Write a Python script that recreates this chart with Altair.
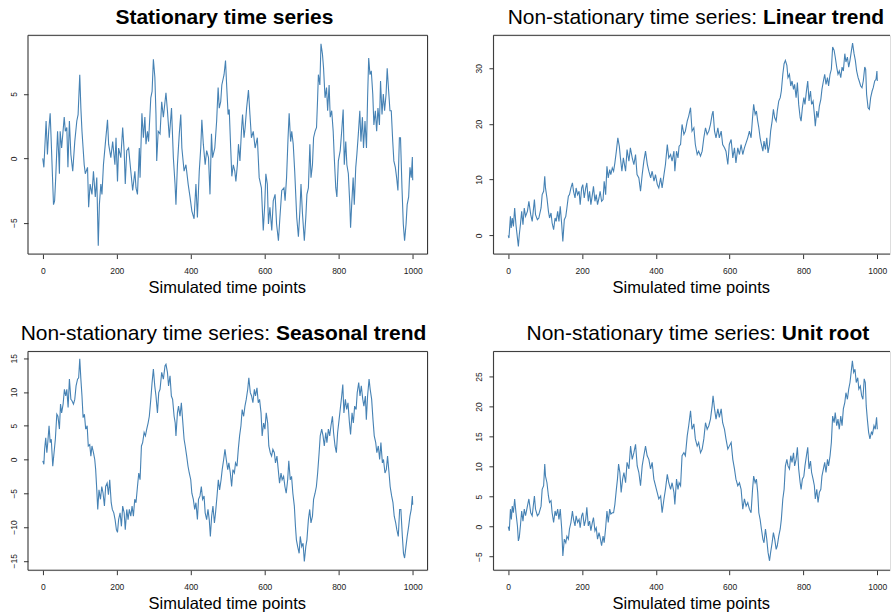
import altair as alt
import pandas as pd

# ---- series values (time index, value) ----
stationary_t = [0, 3, 9, 12.6, 16, 20, 22.5, 29, 32, 35, 40, 43, 45, 47, 51, 58, 61, 65, 68, 72, 76, 81, 86.5, 92, 95.5,
                100, 103, 106, 112, 115, 121, 124, 128, 133, 137, 142, 146, 150, 153, 157, 160, 164, 169, 175, 178, 184,
                189, 195, 198, 202, 205, 211, 216, 220, 223, 227, 232, 238, 243, 249, 252, 256, 261, 263, 268, 272, 276,
                279, 283, 286, 292, 295.5, 299, 303, 306, 308, 312, 317, 321.5, 326, 333, 337, 342, 348, 353, 357.5, 360,
                364, 369, 373, 376, 382, 387, 393, 398, 403, 409, 414, 418, 423, 427, 430, 434, 439, 443, 448, 452, 456,
                459, 465, 470, 474, 477, 481, 484, 490, 494, 497, 501, 504, 508, 511, 515, 519, 522, 526, 529, 533, 537,
                540, 544, 547, 551, 556, 560, 564, 569, 574, 580, 585, 591, 596, 600, 603, 607, 610, 614, 619, 623, 628,
                632, 637, 641, 646, 652, 655, 659, 663, 666, 670, 673, 677, 681, 686.5, 691, 695, 698, 702, 707, 711, 714,
                718, 722, 725, 729, 732, 736, 740, 743, 745, 749, 752, 756, 759, 763, 767, 770, 774, 777, 781, 785, 788,
                792, 795, 799, 804, 808, 812, 815, 819, 822, 826, 830, 832, 835, 839, 842, 846, 849, 853, 857, 860, 864,
                867, 871, 875, 878, 881, 884.5, 888, 892, 895, 899, 902.5, 906, 910, 913, 917, 920.5, 924, 928, 931, 935,
                938.5, 942, 946, 949, 953, 956.5, 960, 964, 967, 971, 974.5, 978, 982, 985, 989, 992.5, 996, 999, 1000]
stationary_v = [0.0, -0.7, 2.9, 0.3, 2.1, 3.5, 1.6, -3.6, -3.3, -1.5, 2.1, 0.3, -1.2, 2.1, 0.8, 3.2, 2.1, 2.4, -0.7, 2.9,
                0.3, -1.0, 1.3, 2.9, 3.4, 6.5, 3.9, 2.1, -0.5, -1.2, -0.7, -3.8, -2.0, -2.8, -1.0, -3.0, -1.5, -6.8, -3.6,
                -2.0, -2.8, -0.5, 1.1, 3.0, 1.1, 0.05, 1.3, -0.5, 1.6, -1.8, 0.8, 0.05, 2.4, 0.6, -2.0, 0.6, 0.8, -1.0,
                -2.5, -1.0, -2.3, -2.8, 0.8, -1.5, 3.5, 1.6, 3.2, 1.1, 2.1, 1.3, 4.7, 5.2, 7.7, 6.3, 3.4, -0.2, 2.1, 1.9,
                4.4, 3.2, 5.1, 3.7, 1.6, 3.9, 0.05, -2.0, -3.6, -0.5, 1.9, 3.4, 0.8, -1.0, -0.5, -2.0, -3.0, -4.1, -4.7,
                -2.0, -4.6, -1.0, 0.8, 3.0, 1.1, -0.5, 0.6, 0.05, -2.8, 1.9, 0.05, 0.8, 2.9, 5.5, 3.9, 4.4, 5.7, 6.5, 7.6,
                5.7, 3.4, 3.8, 0.8, -1.4, -0.5, -1.0, -1.8, -0.5, 1.1, -0.2, 2.1, 3.4, 1.6, 2.4, 3.9, 5.3, 3.4, 1.6, 2.1,
                0.8, 1.6, -1.5, -2.3, -5.6, -3.6, -1.2, -2.0, -5.1, -3.8, -5.6, -3.3, -2.8, -5.1, -6.4, -4.6, -2.5, -2.3,
                -3.3, -1.5, 1.6, 3.5, 1.3, 2.1, 1.1, -1.0, -4.6, -6.1, -4.1, -2.0, -4.3, -6.4, -4.6, -2.8, -2.3, 1.1,
                -1.5, -0.5, 1.6, 2.1, 2.4, 4.7, 6.5, 5.7, 8.9, 8.1, 7.0, 4.7, 5.5, 3.7, 5.7, 3.2, 3.7, 2.1, 0.05, -2.3,
                -3.0, -0.2, 0.6, 2.1, 3.8, -0.5, 1.3, -0.5, -1.2, -3.6, -5.4, -3.6, -1.5, -3.6, -0.7, 0.3, 1.9, 3.7, 1.3,
                3.2, 0.8, 2.9, 0.8, 4.7, 7.8, 6.5, 6.8, 5.0, 2.6, 3.7, 2.1, 3.9, 2.6, 6.0, 3.4, 5.0, 3.7, 5.0, 7.0, 5.2,
                3.7, 3.7, 1.3, -0.2, -0.7, -1.5, -2.5, 1.6, 1.6, -2.3, -5.1, -6.4, -5.1, -3.6, -3.0, -0.7, -1.5, 0.1, -1.7]

linear_t = [0, 2, 6, 8, 11, 14, 17.5, 21, 25, 27.5, 30, 33, 36.5, 40, 43.5, 47, 52, 56, 61, 65, 71, 74, 79, 83, 89, 92,
            96, 99, 101, 105, 109, 112, 116, 119, 123, 127, 130, 134, 137.5, 141, 145, 148, 152, 156, 159, 163, 166, 170,
            174, 177, 181, 184, 188, 192, 195, 199, 202, 206, 210, 213, 217, 220.5, 224, 228, 231, 235, 238.5, 242, 246,
            249, 253, 257, 260, 264, 267.5, 271, 275, 278, 282, 285.5, 289, 293, 297, 301, 304, 308, 312, 318, 322, 327,
            331, 336, 340.5, 345, 349, 354, 358.5, 363, 367.5, 372, 377, 381, 386, 390, 395, 399, 404, 408, 413, 417,
            422, 426, 431, 435, 440, 444, 449, 451.5, 456, 460, 463, 467, 471, 476, 480, 485, 489, 494, 498, 503, 507,
            512, 516, 521, 525.5, 530, 534.5, 539, 543.5, 548, 552.5, 555, 559, 563, 568, 572, 577, 581, 586, 590, 595,
            599, 604, 608.5, 613, 617, 622, 626.5, 631, 635.5, 640, 644.5, 649, 653.5, 658, 662, 665, 669, 672.5, 676,
            679, 682.5, 686, 690, 693, 697, 700.5, 704, 708, 711, 715, 718.5, 722, 726, 729, 733, 737, 740, 744, 747.5,
            751, 755, 758, 762, 765.5, 769, 773, 776, 780, 783.5, 787, 791, 793.5, 797, 801, 804, 808, 811.5, 815, 819,
            822, 826, 829.5, 832, 836, 839.5, 843, 847, 850, 854, 857.5, 861, 865, 868, 872, 875.5, 879, 883, 886, 890,
            893.5, 897, 901, 904.5, 908, 912, 915, 919, 922.5, 926, 930, 933, 937, 940.5, 944, 948, 951, 955, 958.5,
            962, 966, 968.5, 971, 975, 978.5, 982, 986, 989, 993, 996.5, 999, 1000]
linear_v = [0, -0.5, 3.4, 1.3, 3.1, 1.6, 4.9, 1.9, -0.5, -2.0, 0.1, 1.9, 4.3, 1.9, 4.9, 3.4, 4.3, 6.1, 3.7, 2.5, 6.4,
            3.7, 2.8, 3.1, 4.9, 7.3, 7.9, 10.6, 8.5, 6.7, 4.3, 3.1, 4.0, 2.2, 1.0, 3.1, 2.5, 4.3, 2.5, 5.2, 1.9, -1.1,
            2.8, 3.4, 4.9, 7.0, 7.3, 8.5, 9.4, 7.9, 6.7, 8.5, 7.3, 7.9, 5.5, 8.5, 9.1, 6.7, 8.5, 9.4, 6.1, 7.9, 5.5,
            7.3, 8.8, 6.1, 7.3, 5.5, 6.7, 7.9, 6.1, 6.4, 9.7, 7.3, 12.4, 10.3, 11.8, 10.9, 12.1, 11.5, 13.0, 15.1, 17.5,
            16.0, 13.9, 11.5, 13.9, 11.5, 15.4, 13.3, 15.7, 13.9, 12.7, 14.5, 10.9, 10.3, 7.9, 10.9, 13.3, 15.1, 12.7,
            11.5, 10.3, 11.5, 9.7, 10.9, 9.1, 8.5, 10.3, 8.5, 10.9, 12.7, 16.3, 13.9, 14.5, 13.3, 15.1, 11.5, 15.1,
            13.9, 16.0, 16.3, 19.9, 18.1, 18.7, 20.5, 21.4, 22.9, 18.7, 19.3, 16.3, 14.5, 15.1, 14.2, 15.1, 17.5, 19.3,
            18.1, 18.7, 19.9, 21.7, 22.3, 18.7, 17.5, 19.3, 17.5, 18.7, 16.3, 15.7, 15.1, 12.7, 16.3, 17.2, 13.9, 15.7,
            13.0, 15.7, 14.5, 16.3, 14.5, 15.7, 16.6, 17.5, 18.7, 17.5, 21.1, 23.5, 21.7, 22.3, 20.5, 19.3, 17.5, 16.3,
            15.1, 16.9, 15.4, 17.5, 14.8, 16.3, 18.7, 20.5, 22.6, 21.1, 20.5, 22.3, 24.1, 24.7, 25.9, 28.9, 30.8, 31.4,
            30.5, 28.3, 28.9, 26.8, 27.7, 26.2, 27.1, 24.7, 27.4, 23.5, 21.1, 20.5, 22.9, 24.7, 23.5, 25.9, 27.7, 24.1,
            25.9, 23.5, 24.1, 21.7, 19.6, 22.3, 21.1, 23.2, 24.4, 26.2, 27.7, 28.9, 27.1, 28.3, 26.8, 28.9, 29.8, 33.8,
            33.2, 32.0, 30.2, 28.9, 29.5, 28.3, 30.2, 29.5, 32.6, 31.1, 32.0, 30.2, 31.4, 33.2, 34.5, 32.6, 31.4, 29.5,
            28.3, 27.7, 26.8, 26.5, 27.7, 30.2, 29.8, 25.3, 22.9, 22.6, 24.7, 25.9, 26.5, 27.7, 28.0, 29.5, 27.7]

seasonal_t = [0, 3, 5, 8, 11, 13.5, 17, 20, 23, 27, 30.5, 34, 38, 41, 45, 48, 51, 55, 58.5, 62, 65, 68.5, 72, 76, 79, 83,
              86.5, 90, 94, 97, 100, 103, 106, 109, 112.6, 116, 120, 123, 127, 130, 133, 137, 140.5, 143, 146, 148.6,
              152, 156, 159.5, 163, 166.7, 170, 174, 177.5, 181, 185, 188, 192, 195.5, 199, 202, 205, 209, 212.6, 216,
              220, 223, 227, 230.6, 234, 238, 241.4, 245, 248.6, 252, 256, 259.5, 263, 266.7, 270, 274, 277.5, 281,
              284.7, 288, 292, 295.5, 299, 302.7, 306, 310, 313.5, 317, 321.5, 326, 330.5, 333, 337, 340, 344, 347.6,
              351, 355, 358, 360, 364, 367, 371, 374.6, 378, 382, 385, 389, 392.6, 396, 400, 403, 407, 410.6, 414, 418,
              421, 425, 428.6, 432, 436, 439, 443, 446.6, 450, 453, 456.5, 460, 464, 467, 471, 474.5, 478, 482, 485,
              489, 492.5, 496, 500, 503, 507, 510.5, 514, 518, 521, 525, 528.5, 532, 535.7, 539, 543, 546.5, 550, 554,
              557, 561, 564.5, 568, 572, 575, 579, 582.5, 586, 590, 593, 597, 600.5, 604, 608, 611, 615, 618.5, 622,
              626, 629, 633, 636.5, 640, 644, 647, 651, 654.5, 658, 662, 665, 669, 672.5, 676, 680, 683, 685.6, 689,
              693, 696, 700, 703.6, 707, 711, 714, 718, 721.6, 725, 729, 732, 736, 739.6, 743, 747, 750, 754, 757.6,
              761, 765, 768, 772, 775.6, 779, 783, 786, 790, 793.6, 797, 801, 804, 808, 811, 814, 818, 821.5, 825, 829,
              832, 836, 839.5, 843, 847, 850, 854, 857.5, 861, 865, 868, 872, 874.6, 878, 882, 885, 889, 892.6, 896,
              900, 903, 907, 910.6, 914, 918, 921, 925, 928.6, 932, 936, 939, 943, 946.6, 950, 954, 957, 961, 964.6,
              968, 972, 975, 978, 981.7, 985, 989, 992.5, 996, 999, 1000]
seasonal_v = [-0.2, -0.7, 1.5, 3.2, 1.0, 2.5, 5.0, 2.5, 3.0, -1.0, 1.0, 3.0, 6.7, 6.4, 4.5, 8.2, 6.9, 8.2, 10.4, 9.4,
              10.4, 7.7, 11.9, 8.9, 8.7, 8.2, 8.9, 10.9, 11.9, 12.1, 14.9, 11.9, 9.4, 6.2, 6.7, 4.5, 5.0, 2.0, 2.2, 0.5,
              2.0, 1.0, 0.0, -1.5, -4.5, -7.4, -4.5, -5.9, -4.0, -5.0, -6.9, -4.0, -3.5, -5.2, -3.0, -6.4, -7.4, -7.9,
              -8.9, -10.4, -10.8, -8.9, -7.9, -9.9, -6.9, -7.9, -10.4, -7.4, -8.9, -7.4, -8.4, -6.9, -8.4, -5.9, -6.4,
              -4.0, -2.0, -3.0, 2.0, 2.5, 4.0, 3.5, 4.5, 5.4, 6.4, 8.9, 11.4, 13.4, 10.9, 9.4, 6.9, 9.9, 10.4, 12.9,
              11.9, 13.9, 14.1, 12.9, 10.9, 12.4, 9.4, 8.9, 6.4, 5.4, 3.5, 6.9, 7.9, 6.4, 8.4, 5.9, 3.0, 2.0, 0.5, -1.0,
              -2.0, -3.0, -5.0, -5.9, -7.4, -6.4, -8.9, -5.9, -5.4, -4.0, -5.9, -5.4, -7.9, -8.9, -7.4, -8.9, -11.4,
              -8.4, -6.9, -9.4, -7.9, -5.4, -3.0, -4.5, -3.0, -1.5, 0.0, 1.5, 0.0, -1.5, -0.5, -2.0, -4.0, -1.5, -2.0,
              -0.5, -1.0, 1.5, 3.5, 5.0, 7.4, 6.4, 7.9, 8.9, 10.4, 12.1, 9.9, 9.4, 8.4, 10.4, 9.4, 10.6, 8.4, 8.9, 6.9,
              3.5, 5.4, 4.5, 6.9, 5.4, 2.0, 1.0, 0.5, 1.5, 1.0, -0.5, 0.5, -1.5, -3.5, -2.0, -3.0, -2.5, -4.0, -5.0,
              -3.0, -0.2, -3.0, -2.5, -5.0, -6.9, -9.9, -11.9, -12.9, -13.9, -11.4, -12.9, -12.4, -15.1, -12.9, -11.9,
              -8.9, -7.4, -9.4, -8.4, -5.9, -5.0, -4.0, -2.0, 1.0, 3.5, 4.5, 3.5, 2.0, 4.0, 2.5, 4.5, 3.5, 5.0, 6.4,
              4.0, 2.0, 1.0, 4.0, 5.9, 7.4, 9.4, 11.1, 6.9, 8.9, 7.4, 8.4, 5.4, 3.7, 6.9, 5.4, 7.9, 7.4, 9.9, 11.4, 9.4,
              10.9, 8.9, 7.9, 9.4, 5.9, 9.4, 11.9, 10.4, 8.9, 5.9, 3.5, 2.5, 1.0, 2.0, 0.0, 2.5, -0.5, 0.0, -2.0, -1.5,
              0.5, -2.0, -4.0, -5.4, -6.4, -8.4, -9.4, -10.4, -11.4, -7.4, -7.4, -11.4, -13.9, -14.6, -12.9, -11.4,
              -9.9, -8.4, -7.4, -5.4, -6.7]

unitroot_t = [0, 3, 6, 8.5, 11, 14, 17.5, 21, 25, 27.5, 30, 33, 36.5, 40, 43.5, 47, 52, 56, 61, 65, 71, 74, 79, 83, 89,
              92, 96, 99, 101, 105, 109, 112, 116, 119, 123, 127, 130, 134, 137.5, 141, 145, 148, 152, 156, 159, 163,
              166, 170, 174, 177, 181, 184, 188, 192, 195, 199, 202, 206, 210, 213, 217, 220.5, 224, 228, 231, 235,
              238.5, 242, 246, 249, 253, 257, 260, 264, 267.5, 271, 275, 278, 282, 285.5, 289, 293, 296, 299, 302.5,
              306, 310, 313.5, 318, 322, 327, 331.5, 336, 340.5, 345, 349.5, 354, 358.5, 363, 367.5, 372, 376.5, 381,
              385.6, 390, 394.6, 399, 403.6, 408, 413, 417, 422, 426, 431, 435, 440, 444, 449, 451.5, 456, 460, 463,
              467, 471, 476, 480, 485, 489, 494, 498, 503, 507, 512, 516, 521, 525.5, 530, 534.5, 539, 543.5, 548,
              552.5, 555, 559, 563, 568, 572, 577, 581, 586, 590, 595, 599, 604, 608.5, 613, 617, 622, 626.5, 631,
              635.5, 640, 644.5, 649, 653.5, 658, 662, 665, 669, 672.5, 676, 679, 682.5, 686, 690, 693, 697, 700.5,
              704, 708, 711, 715, 718.5, 722, 726, 729, 733, 737, 740, 744, 747.5, 751, 755, 758, 762, 765.5, 769, 773,
              776, 780, 783.5, 787, 791, 793.5, 797, 801, 804, 808, 811.5, 815, 819, 822, 826, 829.5, 832, 836, 839.5,
              843, 847, 850, 854, 857.5, 861, 865, 868, 872, 875.5, 879, 883, 886, 890, 893.5, 897, 901, 904.5, 908,
              912, 915, 919, 922.5, 926, 930, 932.5, 936, 939.5, 943, 947, 950, 954, 957.5, 961, 964.5, 967.5, 970, 973,
              976.5, 980, 984, 987, 991, 994.5, 998, 1000]
unitroot_v = [0, -0.7, 2.9, 1.2, 3.4, 2.3, 4.6, 2.3, 0.1, -2.4, -1.8, 0.1, 2.6, 0.9, 2.9, 1.8, 3.4, 4.6, 2.3, 1.8, 5.1,
              2.9, 1.8, 2.1, 3.4, 6.2, 6.8, 10.4, 8.4, 7.3, 5.1, 4.0, 4.3, 2.3, 0.7, 2.6, 1.8, 2.9, 1.2, 2.9, -0.4, -4.9,
              -2.1, -2.7, -1.6, -2.1, -0.4, 0.7, 2.6, 1.2, 0.1, 1.8, 0.7, 1.2, -0.2, 1.8, 2.3, 0.1, 1.2, 3.2, 0.1, 0.9,
              -0.7, 0.7, 1.5, -0.7, -0.2, -2.1, -1.0, -1.8, -3.2, -1.6, -2.7, -0.2, 2.6, 0.7, 2.9, 2.1, 2.3, 2.3, 3.7,
              6.2, 7.9, 10.4, 9.0, 5.7, 7.9, 9.0, 7.3, 10.7, 9.6, 13.4, 11.2, 12.3, 13.7, 10.1, 9.0, 6.8, 10.1, 11.8,
              13.4, 11.8, 11.2, 9.6, 10.7, 7.9, 6.8, 5.7, 4.6, 5.1, 2.3, 4.6, 6.2, 8.7, 7.3, 6.2, 7.3, 5.7, 3.7, 7.9,
              6.2, 7.3, 6.8, 11.8, 12.3, 11.8, 15.1, 16.8, 19.3, 16.2, 17.1, 14.6, 13.4, 14.0, 12.3, 12.9, 14.6, 17.3,
              16.2, 16.8, 17.9, 20.1, 21.8, 19.6, 17.9, 19.6, 18.2, 19.6, 17.3, 16.2, 14.6, 12.9, 13.4, 14.0, 11.2, 9.6,
              7.9, 6.8, 7.3, 6.2, 2.9, 4.6, 3.4, 4.0, 2.9, 2.3, 6.2, 8.4, 7.3, 7.9, 5.7, 2.3, 1.2, -0.4, -2.1, -2.7,
              -0.4, -2.1, -4.3, -5.7, -4.3, -2.7, -1.0, -2.1, -3.8, -3.2, -1.6, -0.4, 1.2, 4.6, 6.2, 10.1, 11.2, 10.1,
              9.6, 11.8, 10.7, 12.3, 10.1, 11.2, 13.2, 9.6, 7.3, 6.2, 7.9, 8.4, 10.1, 11.8, 13.2, 9.6, 10.9, 9.0, 7.9,
              6.8, 4.6, 6.2, 4.0, 5.7, 6.2, 8.4, 9.6, 10.7, 9.0, 11.2, 10.1, 11.8, 14.0, 18.4, 17.3, 19.0, 16.8, 17.9,
              16.2, 18.4, 16.8, 19.6, 20.7, 22.3, 21.2, 22.9, 24.0, 26.2, 27.6, 25.7, 26.2, 24.0, 24.8, 22.9, 23.4,
              21.8, 21.2, 24.6, 24.0, 20.1, 17.9, 15.7, 14.6, 15.7, 15.4, 16.8, 16.2, 18.2, 16.2]

# ---- axis ticks ----
x_ticks = [0, 200, 400, 600, 800, 1000]
stationary_ticks = [-5, 0, 5]
linear_ticks = [0, 10, 20, 30]
seasonal_ticks = [-15, -10, -5, 0, 5, 10, 15]
unitroot_ticks = [-5, 0, 5, 10, 15, 20, 25]

FONT = "Liberation Sans"
LINE_COLOR = "#4682b4"
FRAME = "#333333"
INK = "#222222"
H = 219


def one_row(label=""):
    return pd.DataFrame({"label": [label]})


def text_mark(label, x, y, align, weight, size):
    return alt.Chart(one_row(label)).mark_text(
        align=align, baseline="alphabetic", font=FONT, fontSize=size,
        fontWeight=weight, color="black"
    ).encode(x=alt.value(x), y=alt.value(y), text="label:N")


def frame(w, h, closed):
    base = alt.Chart(one_row())
    kw = dict(color=FRAME, strokeWidth=1)
    parts = [
        base.mark_rule(**kw).encode(x=alt.value(0), x2=alt.value(w), y=alt.value(0)),
        base.mark_rule(**kw).encode(x=alt.value(0), x2=alt.value(w), y=alt.value(h)),
        base.mark_rule(**kw).encode(x=alt.value(0), y=alt.value(0), y2=alt.value(h)),
    ]
    if closed:
        parts.append(base.mark_rule(**kw).encode(x=alt.value(w), y=alt.value(0), y2=alt.value(h)))
    return parts


def panel(t, v, ydomain, yticks, title_marks, w, xmax, closed):
    df = pd.DataFrame({"t": t, "v": v})
    line = alt.Chart(df).mark_line(color=LINE_COLOR, strokeWidth=1.1).encode(
        x=alt.X("t:Q",
                scale=alt.Scale(domain=[-40, xmax], nice=False, zero=False),
                axis=alt.Axis(values=x_ticks, format="d", domain=False, grid=False,
                              tickSize=4.5, tickColor=FRAME, tickWidth=1,
                              labelFont=FONT, labelFontSize=8.5, labelColor=INK,
                              labelBaseline="alphabetic", labelPadding=14.6,
                              labelFlush=False, labelOverlap=False, title=None)),
        y=alt.Y("v:Q",
                scale=alt.Scale(domain=ydomain, nice=False, zero=False),
                axis=alt.Axis(values=yticks, format="d", domain=False, grid=False,
                              tickSize=4.5, tickColor=FRAME, tickWidth=1,
                              labelFont=FONT, labelFontSize=8.5, labelColor=INK,
                              labelAngle=270, labelAlign="center",
                              labelBaseline="alphabetic", labelPadding=7.4,
                              labelFlush=False, labelOverlap=False, title=None)),
    )
    xtitle = text_mark("Simulated time points", w / 2 - 0.5, H + 39, "center", "normal", 16.5)
    return alt.layer(line, *frame(w, H, closed), xtitle, *title_marks).properties(width=w, height=H)


def mixed_title(bold_part, center, bold_width):
    # regular prefix is 255.6 px wide at 21 px (including the trailing space)
    left = center - (255.6 + bold_width) / 2
    return [
        text_mark("Non-stationary time series:", left, -11, "left", "normal", 21),
        text_mark(bold_part, left + 255.6, -11, "left", "bold", 21),
    ]


WL, WR = 400, 397
XMAX_L, XMAX_R = 1040, 1034.4

p1 = panel(stationary_t, stationary_v, [-7.44, 9.56], stationary_ticks,
           [text_mark("Stationary time series", 196.7, -11, "center", "bold", 21)],
           WL, XMAX_L, True)
p2 = panel(linear_t, linear_v, [-3.37, 35.9], linear_ticks,
           mixed_title("Linear trend", 202.7, 121.4), WR, XMAX_R, False)
p3 = panel(seasonal_t, seasonal_v, [-16.4, 16.0], seasonal_ticks,
           mixed_title("Seasonal trend", 195.7, 150.5), WL, XMAX_L, True)
p4 = panel(unitroot_t, unitroot_v, [-7.27, 29.17], unitroot_ticks,
           mixed_title("Unit root", 204.7, 87.5), WR, XMAX_R, False)

chart = alt.concat(
    p1, p2, p3, p4, columns=2,
    spacing={"row": 97.5, "column": 66}, bounds="flush"
).properties(
    padding={"left": 8, "top": 6, "right": 0, "bottom": 4},
    background="white",
).configure_view(stroke=None).configure(font=FONT)

chart.save("out.html", embed_options={"renderer": "svg", "actions": False})
